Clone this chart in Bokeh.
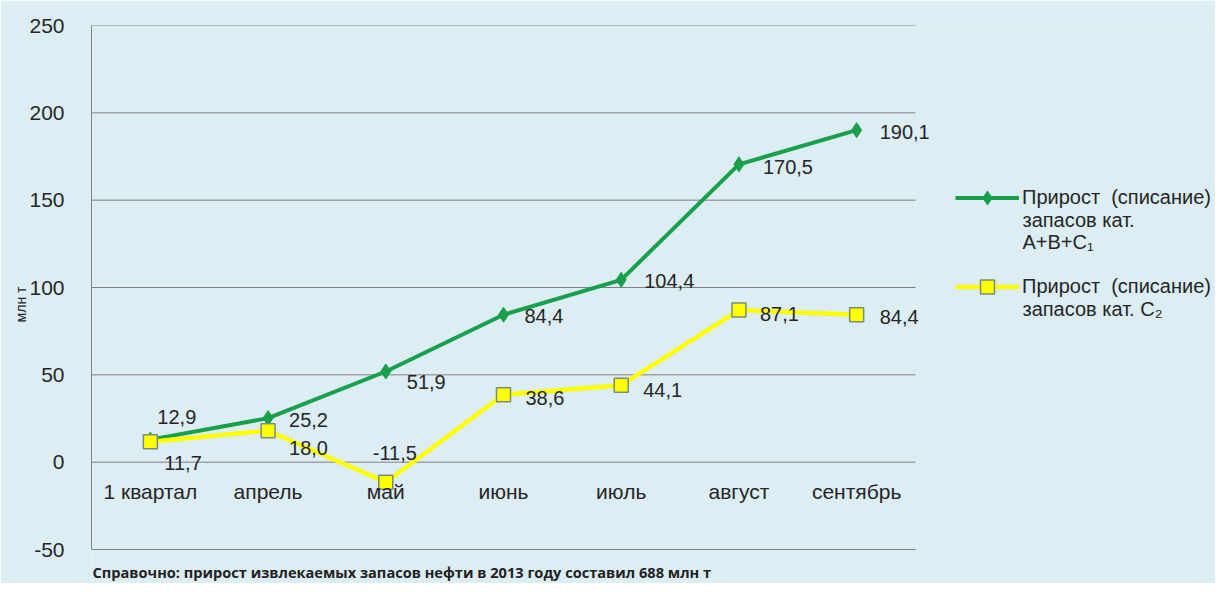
from bokeh.plotting import figure
from bokeh.models import (Range1d, Legend, LegendItem, ColumnDataSource, FixedTicker)
from bokeh.core.properties import value
from bokeh.embed import file_html
from bokeh.resources import INLINE

# ---- data ----
categories = ["1 квартал", "апрель", "май", "июнь", "июль", "август", "сентябрь"]
abc1 = [12.9, 25.2, 51.9, 84.4, 104.4, 170.5, 190.1]
c2 = [11.7, 18.0, -11.5, 38.6, 44.1, 87.1, 84.4]
y_ticks = [-50, 0, 50, 100, 150, 200, 250]
legend_first_line = "Прирост  (списание)"
legend_abc1_rest = ["запасов кат.", "A+B+C\u2081"]
legend_c2_rest = ["запасов кат. C\u2082"]
y_title = "млн т"
footnote = "Справочно: прирост извлекаемых запасов нефти в 2013 году составил 688 млн т"

# label offsets (pixels, styling only)
abc1_dx = [7, 21, 21, 21, 23, 24, 23]
abc1_dy = [-23, 2, 10, 1, 1, 3, 2]
c2_dx = [14, 21, -13, 22, 22, 21, 23]
c2_dy = [21, 17, -29, 3, 5, 4, 2]

BG = "#dcedf4"
GREEN = "#19a04b"
YELLOW = "#ffff00"
GRID = "#808080"
TXT = "#262626"
FONT = "Liberation Sans"

W, H = 1215, 583
LEFT, TOP = 91, 25
CAT_PX = 824 / 7.0           # pixels per category
PX_PER_UNIT = 524 / 300.0    # pixels per y unit
n = len(categories)
x_end = (W - LEFT) / CAT_PX
y_top = y_ticks[-1]
y_bottom = y_top - (H - TOP) / PX_PER_UNIT


def page_y_to_data(py):
    return y_top - (py - TOP) / PX_PER_UNIT


def page_x_to_data(px):
    return (px - LEFT) / CAT_PX


p = figure(width=W, height=H, output_backend="svg", toolbar_location=None,
           x_range=Range1d(0, x_end), y_range=Range1d(y_bottom, y_top),
           min_border_left=LEFT, min_border_right=0, min_border_top=TOP,
           min_border_bottom=0)
p.background_fill_color = BG
p.border_fill_color = BG
p.outline_line_color = None

p.xaxis.visible = False
p.xgrid.visible = False
p.ygrid.visible = False
p.yaxis.ticker = FixedTicker(ticks=y_ticks)
p.yaxis.bounds = (y_ticks[0], y_ticks[-1])
p.yaxis.major_label_overrides = {t: str(t) for t in y_ticks}
p.yaxis.axis_line_color = GRID
p.yaxis.major_tick_line_color = None
p.yaxis.minor_tick_line_color = None
p.yaxis.major_label_standoff = 21
p.yaxis.major_label_text_font = FONT
p.yaxis.major_label_text_font_size = "21px"
p.yaxis.major_label_text_color = TXT
p.yaxis.axis_label = y_title
p.yaxis.axis_label_text_font = FONT
p.yaxis.axis_label_text_font_size = "14px"
p.yaxis.axis_label_text_font_style = "normal"
p.yaxis.axis_label_text_color = TXT
p.yaxis.axis_label_standoff = -3

# horizontal grid lines spanning the category area only
p.segment(x0=[0] * len(y_ticks), x1=[n] * len(y_ticks), y0=y_ticks, y1=y_ticks,
          line_color=GRID, line_width=1)

xs = [i + 0.5 for i in range(n)]


def fmt(v):
    return f"{v:.1f}".replace(".", ",")


src_a = ColumnDataSource(dict(x=xs, y=abc1, t=[fmt(v) for v in abc1],
                              dx=abc1_dx, dy=abc1_dy))
src_c = ColumnDataSource(dict(x=xs, y=c2, t=[fmt(v) for v in c2],
                              dx=c2_dx, dy=c2_dy))

ga_line = p.line("x", "y", source=src_a, line_color=GREEN, line_width=4)
ga_mark = p.scatter("x", "y", source=src_a, marker="diamond", size=15,
                    fill_color=GREEN, line_color=GREEN)
gc_line = p.line("x", "y", source=src_c, line_color=YELLOW, line_width=4.5)
gc_mark = p.scatter("x", "y", source=src_c, marker="square", size=14,
                    fill_color=YELLOW, line_color="#7a8c78", line_width=1.5)

for src in (src_a, src_c):
    p.text("x", "y", text="t", source=src, x_offset="dx", y_offset="dy",
           text_font=value(FONT), text_font_size="20px", text_color=TXT,
           text_align="left", text_baseline="middle")

# category labels sitting just under the zero line
cat_src = ColumnDataSource(dict(x=xs, y=[0] * n, t=categories))
p.text("x", "y", text="t", source=cat_src, y_offset=29,
       text_font=value(FONT), text_font_size="21px", text_color=TXT,
       text_align="center", text_baseline="middle")

GLYPH_H = 35
legend = Legend(items=[
    LegendItem(label=legend_first_line, renderers=[ga_line, ga_mark]),
    LegendItem(label=legend_first_line, renderers=[gc_line, gc_mark]),
], location=(955 - LEFT, H - (286 + GLYPH_H / 2)), padding=0, margin=0,
    spacing=89 - GLYPH_H,
    glyph_width=64, glyph_height=GLYPH_H, label_height=22, label_standoff=3,
    label_text_font=FONT, label_text_font_size="20px", label_text_color=TXT,
    background_fill_alpha=0, border_line_color=None)
p.add_layout(legend, "center")

rest_lines = legend_abc1_rest + legend_c2_rest
rest_src = ColumnDataSource(dict(
    x=[page_x_to_data(1022)] * len(rest_lines),
    y=[page_y_to_data(py) for py in (219, 241, 308)],
    t=rest_lines))
p.text("x", "y", text="t", source=rest_src,
       text_font=value(FONT), text_font_size="20px", text_color=TXT,
       text_align="left", text_baseline="middle")

p.text(x=[page_x_to_data(92)], y=[page_y_to_data(571)], text=[footnote],
       text_font=value("Open Sans"), text_font_style="bold",
       text_font_size="14.6px", text_color="#222222",
       text_align="left", text_baseline="middle")

open("out.html", "w").write(file_html(p, INLINE))
